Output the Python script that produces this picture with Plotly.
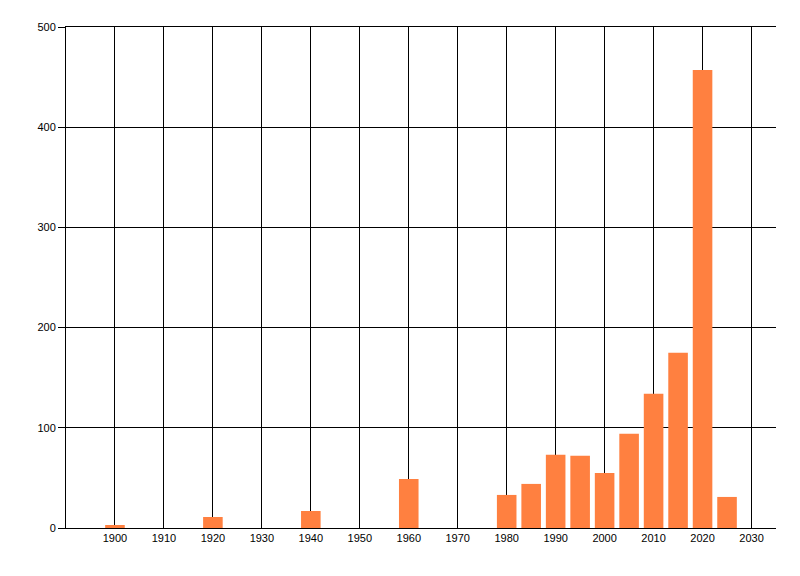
import plotly.graph_objects as go

# year buckets and counts
years = [1900, 1920, 1940, 1960, 1980, 1985, 1990, 1995, 2000, 2005, 2010, 2015, 2020, 2025]
counts = [3, 11, 17, 49, 33, 44, 73, 72, 55, 94, 134, 175, 457, 31]

x_ticks = [1900, 1910, 1920, 1930, 1940, 1950, 1960, 1970, 1980, 1990, 2000, 2010, 2020, 2030]
y_ticks = [0, 100, 200, 300, 400, 500]

fig = go.Figure()
fig.add_trace(go.Bar(x=years, y=counts, width=4, marker=dict(color="#FF8040", line=dict(width=0))))

# page body has an 8px margin, so the figure is a bit smaller than the window
fig.update_layout(
    width=792, height=568,
    margin=dict(l=58, r=24, t=19, b=48),
    paper_bgcolor="white", plot_bgcolor="white",
    showlegend=False,
    font=dict(family="Liberation Sans, Arial, sans-serif", size=11, color="#000000"),
)
fig.update_xaxes(
    range=[1890, 2035], tickvals=x_ticks, ticktext=[str(t) for t in x_ticks],
    showgrid=True, gridcolor="black", gridwidth=1,
    showline=True, linecolor="black", linewidth=1, mirror=True,
    ticks="", zeroline=False,
)
fig.update_yaxes(
    range=[0, 500], tickvals=y_ticks,
    showgrid=True, gridcolor="black", gridwidth=1,
    showline=True, linecolor="black", linewidth=1,
    ticks="outside", ticklen=7, tickcolor="black", zeroline=False,
)

fig.write_html("out.html")
